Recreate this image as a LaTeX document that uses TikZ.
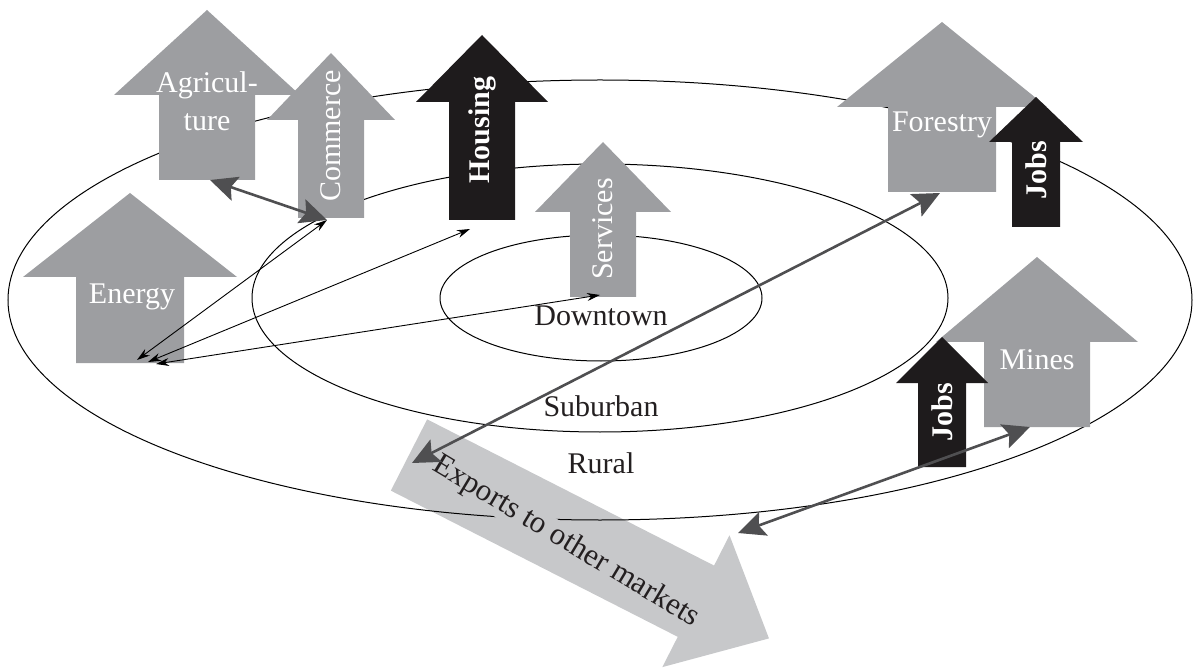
\documentclass[tikz,border=0pt]{standalone}
\usepackage{fontspec}
\setmainfont{Liberation Serif}
\usetikzlibrary{arrows.meta}

\definecolor{blockgray}{HTML}{9D9EA1}
\definecolor{blockdark}{HTML}{1E1B1C}
\definecolor{exportgray}{HTML}{C7C8CA}
\definecolor{linkgray}{HTML}{4F4F51}
\definecolor{inkdark}{HTML}{231F20}

% upward block arrow: colour, axis x, tip y, head base y, head half width, shaft half width, bottom y
\newcommand{\upblock}[7]{%
  \fill[#1] (#2,#3) -- ({#2+#5},#4) -- ({#2+#6},#4) -- ({#2+#6},#7)
    -- ({#2-#6},#7) -- ({#2-#6},#4) -- ({#2-#5},#4) -- cycle;}

\begin{document}
\begin{tikzpicture}[x=1pt,y=-1pt,
  ring/.style={draw=black, line width=1pt},
  lbl/.style={text=white, font=\fontsize{30}{37}\selectfont, inner sep=0pt, align=center},
  vlbl/.style={lbl, rotate=90},
  ringlbl/.style={text=inkdark, font=\fontsize{30}{36}\selectfont, inner sep=0pt},
  thinlink/.style={draw=black, line width=0.9pt,
    arrows={Stealth[length=13pt,width=8pt]-Stealth[length=13pt,width=8pt]}},
  thicklink/.style={draw=linkgray, line width=2.6pt,
    arrows={Stealth[length=27pt,width=25pt,inset=5pt]-Stealth[length=27pt,width=25pt,inset=5pt]}}]
\useasboundingbox (0,0) rectangle (1197,668);

% export arrow (lies under the rings)
\begin{scope}[shift={(409,455)}, rotate=-27]
  \fill[exportgray] (0,-40) -- (322,-40) -- (322,-74) -- (404,0)
    -- (322,74) -- (322,40) -- (0,40) -- cycle;
\end{scope}

% the three rings
\draw[ring] (600,300) ellipse [x radius=592pt, y radius=220pt];
\draw[ring] (600,298) ellipse [x radius=348pt, y radius=134pt];
\draw[ring] (601,298) ellipse [x radius=161pt, y radius=63pt];

\node[ringlbl, rotate=-31, fill=exportgray, inner sep=1pt,
  font=\fontsize{31}{36}\selectfont] (exports) at (566,542) {Exports to other markets};

% sector arrows
\upblock{blockgray}{207}{10}{95}{93}{48}{180}
\upblock{blockgray}{331}{53}{120}{64}{33}{218}
\upblock{blockdark}{482}{35}{102}{66}{33}{220}
\upblock{blockgray}{603}{142}{212}{68}{33}{297}
\upblock{blockgray}{130}{193}{277}{107}{54}{363}
\upblock{blockgray}{942}{22}{107}{105}{54}{192}
\upblock{blockdark}{1036}{97}{142}{47}{24}{227}
\upblock{blockgray}{1037}{257}{342}{101}{53}{427}
\upblock{blockdark}{942}{337}{383}{46}{24}{467}

\node[lbl] (agri1) at (207,85) {Agricul-};
\node[lbl] (agri2) at (207,122) {ture};
\node[vlbl] (commerce) at (331,136) {Commerce};
\node[vlbl, font=\fontsize{30}{36}\selectfont\bfseries] (housing) at (482,130) {Housing};
\node[vlbl] (services) at (603,229) {Services};
\node[lbl] (energy) at (132,297) {Energy};
\node[lbl] (forestry) at (942,125) {Forestry};
\node[vlbl, font=\fontsize{30}{36}\selectfont\bfseries] (jobsA) at (1036,170) {Jobs};
\node[lbl] (mines) at (1037,360) {Mines};
\node[vlbl, font=\fontsize{30}{36}\selectfont\bfseries] (jobsB) at (942,412) {Jobs};

\node[ringlbl] (downtown) at (601,316) {Downtown};
\node[ringlbl] (suburban) at (601,406) {Suburban};
\node[ringlbl] (rural) at (601,463) {Rural};

% connector ends
\coordinate (agri-b) at (210,180);
\coordinate (com-b) at (327,220);
\coordinate (hou-b) at (470,229);
\coordinate (ser-b) at (600,295);
\coordinate (en-1) at (137,360);
\coordinate (en-2) at (148,362);
\coordinate (en-3) at (156,364);
\coordinate (for-b) at (940,193);
\coordinate (exp-a) at (412,463);
\coordinate (min-b) at (1030,427);
\coordinate (exp-b) at (738,533);

\draw[thinlink] (en-1) -- (com-b);
\draw[thinlink] (en-2) -- (hou-b);
\draw[thinlink] (en-3) -- (ser-b);
\draw[thicklink] (agri-b) -- (com-b);
\draw[thicklink] (for-b) -- (exp-a);
\draw[thicklink] (min-b) -- (exp-b);
\end{tikzpicture}
\end{document}
